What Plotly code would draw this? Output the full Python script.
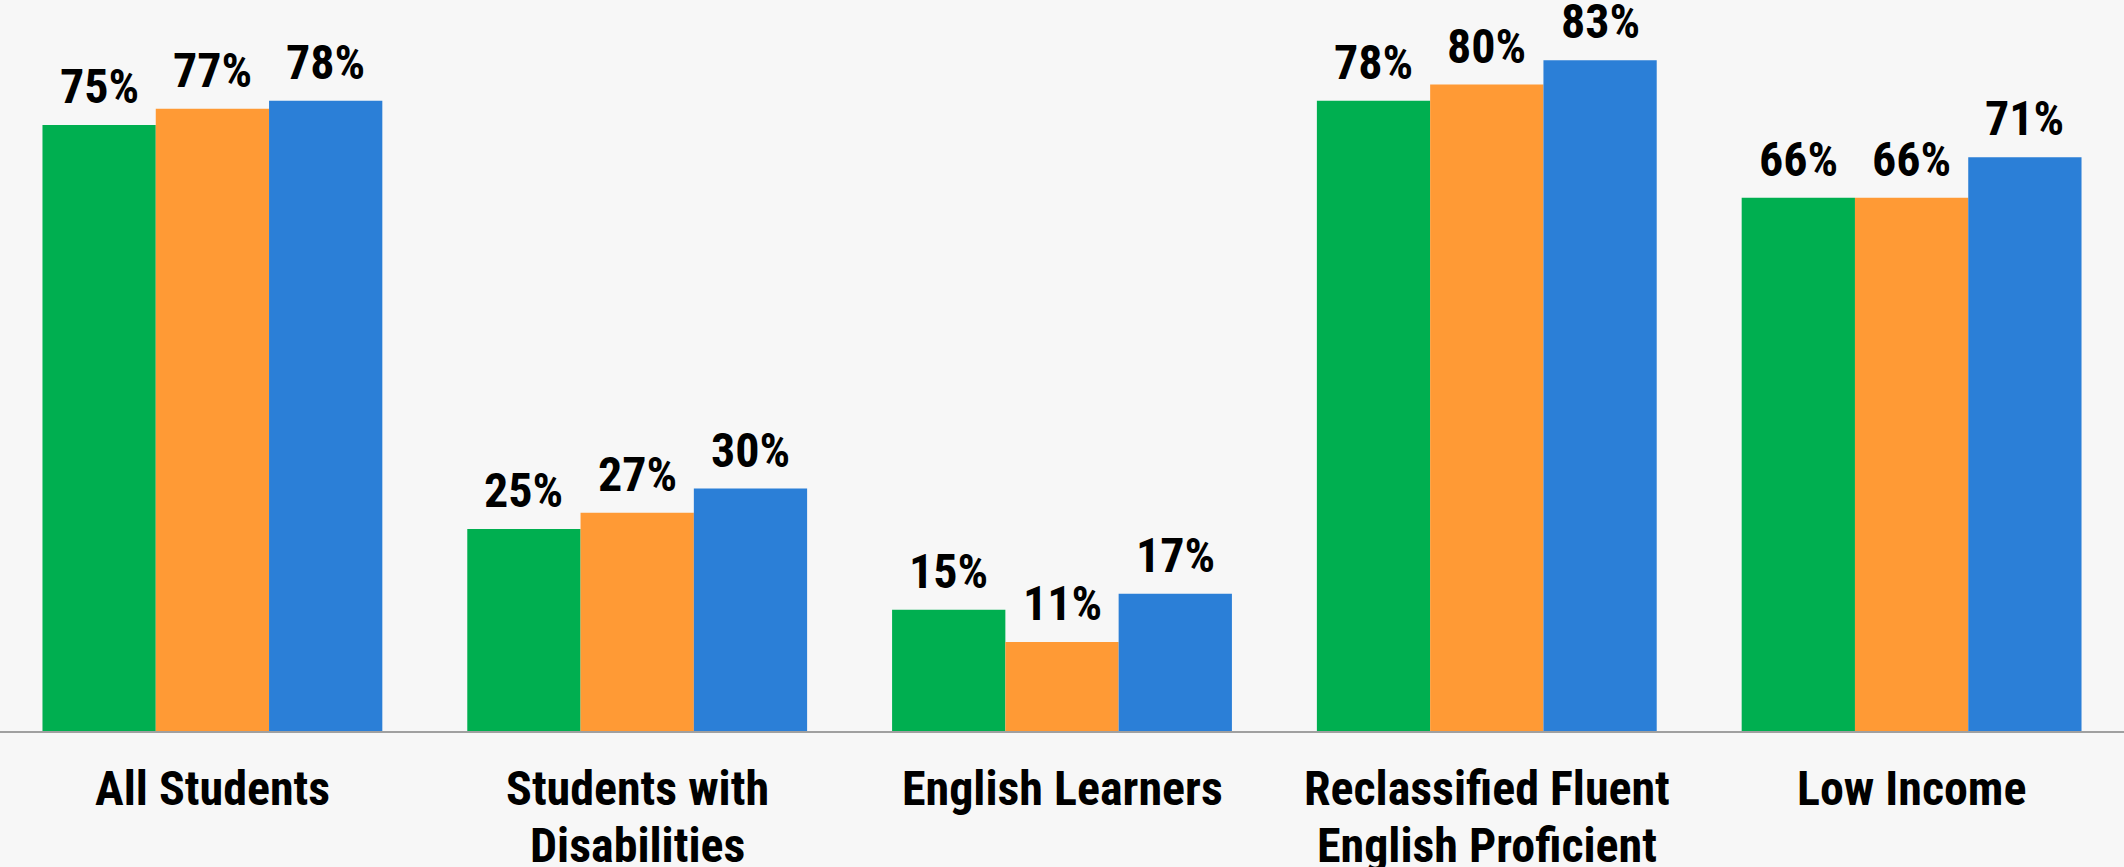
import plotly.graph_objects as go

categories = ["All Students", "Students with<br>Disabilities", "English Learners",
              "Reclassified Fluent<br>English Proficient", "Low Income"]
series_names = ["Year 1", "Year 2", "Year 3"]
values_1 = [75, 25, 15, 78, 66]
values_2 = [77, 27, 11, 80, 66]
values_3 = [78, 30, 17, 83, 71]
colors = ["#00AF50", "#FF9A35", "#2B7FD7"]

FONT = "Roboto Condensed, Liberation Sans Narrow, sans-serif"
W, H = 2124, 867
BARGAP = 0.2
n_series = 3
bar_px = W / len(categories) * (1 - BARGAP) / n_series

fig = go.Figure()
all_vals = [values_1, values_2, values_3]
for i, (name, vals, col) in enumerate(zip(series_names, all_vals, colors)):
    fig.add_trace(go.Bar(
        x=categories, y=vals, name=name,
        marker=dict(color=col, line=dict(width=0)),
        hoverinfo="x+y",
    ))
    for c, v in zip(categories, vals):
        fig.add_annotation(
            x=c, y=v, xref="x", yref="y", text=f"{v}%", showarrow=False,
            xanchor="center", yanchor="bottom",
            xshift=(i - (n_series - 1) / 2) * bar_px, yshift=8,
            font=dict(family=FONT, size=48, color="#000000", weight="bold"),
        )

# category labels, one annotation per line (tighter line spacing than tick labels)
for c in categories:
    for k, line in enumerate(c.split("<br>")):
        fig.add_annotation(
            x=c, y=0, xref="x", yref="paper", text=line, showarrow=False,
            xanchor="center", yanchor="top", yshift=-27 - 57 * k,
            font=dict(family=FONT, size=48, color="#000000", weight="bold"),
        )

fig.update_layout(
    width=W, height=H,
    margin=dict(l=0, r=0, t=0, b=136),
    paper_bgcolor="#F7F7F7", plot_bgcolor="#F7F7F7",
    barmode="group", bargap=BARGAP, bargroupgap=0,
    showlegend=False,
    xaxis=dict(
        showline=True, linecolor="#A0A0A0", linewidth=2,
        showticklabels=False,
        showgrid=False, ticks="", range=[-0.5, 4.5], automargin=False,
    ),
    yaxis=dict(range=[0, 90.47], visible=False, showgrid=False, zeroline=False,
               automargin=False),
)

fig.write_html("out.html", config={"displayModeBar": False},
               post_script="document.body.style.margin='0px';")
